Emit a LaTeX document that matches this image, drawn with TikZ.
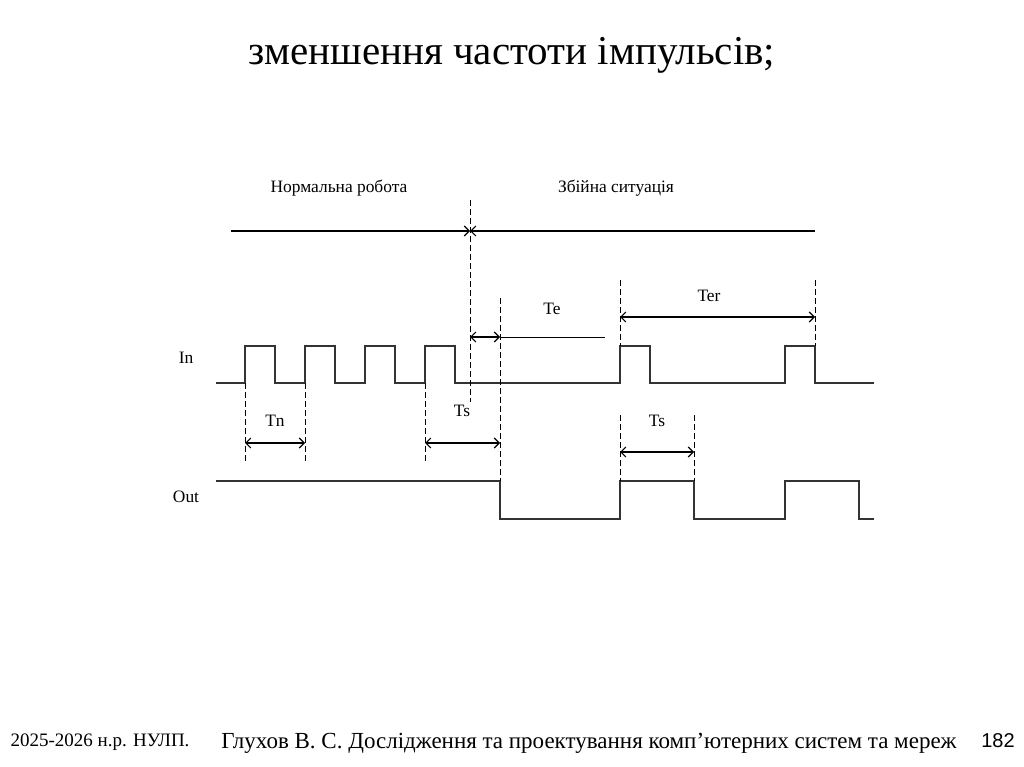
\documentclass[tikz,border=0pt]{standalone}
\usepackage{fontspec}
\setmainfont{Liberation Serif}
\newfontfamily\sansf{Liberation Sans}
\usetikzlibrary{arrows.meta}
\begin{document}
\begin{tikzpicture}[x=1pt,y=-1pt,
  sig/.style={line width=1.1pt,black!80},
  dsh/.style={line width=0.8pt,dash pattern=on 6pt off 3pt},
  dim/.style={line width=1.1pt,{Straight Barb[length=5pt]}-{Straight Barb[length=5pt]}},
  lbl/.style={font=\fontsize{17.4}{19}\selectfont}]
\useasboundingbox (0,0) rectangle (1024,767);
\node (title) at (512,55) {\fontsize{41}{48}\selectfont зменшення частоти імпульсів;};
% In signal
\draw[sig] (216,383) -- (245,383) -- (245,346) -- (275,346) -- (275,383) -- (305,383) -- (305,346) -- (335,346) -- (335,383) -- (365,383) -- (365,346) -- (395,346) -- (395,383) -- (425,383) -- (425,346) -- (455,346) -- (455,383) -- (620,383) -- (620,346) -- (650,346) -- (650,383) -- (785,383) -- (785,346) -- (815,346) -- (815,383) -- (874,383);
% Out signal
\draw[sig] (216,481) -- (500,481) -- (500,519) -- (620,519) -- (620,481) -- (694,481) -- (694,519) -- (785,519) -- (785,481) -- (859,481) -- (859,519) -- (874,519);
% dashed
\draw[dsh] (245,383) -- (245,462);
\draw[dsh] (305,383) -- (305,462);
\draw[dsh] (425,383) -- (425,462);
\draw[dsh] (500,298) -- (500,481);
\draw[dsh] (470,200) -- (470,402);
\draw[dsh] (620,280) -- (620,346);
\draw[dsh] (620,415) -- (620,481);
\draw[dsh] (815,280) -- (815,346);
\draw[dsh] (694,415) -- (694,481);
% dims
\coordinate (a1) at (231,231); \coordinate (a2) at (470,231); \coordinate (a3) at (815,231);
\draw[line width=1.1pt,-{Straight Barb[length=5pt]}] (a1) -- (a2);
\draw[line width=1.1pt,{Straight Barb[length=5pt]}-] (a2) -- (a3);
\draw[dim] (245,443) -- (305,443);
\draw[dim] (425,443) -- (500,443);
\draw[dim] (470,337) -- (500,337);
\draw[line width=0.8pt] (500,337) -- (605,337);
\draw[dim] (620,317) -- (815,317);
\draw[dim] (620,452) -- (694,452);
% labels
\node[lbl] (l1) at (339,188) {Нормальна робота};
\node[lbl] (l2) at (616,188) {Збійна ситуація};
\node[lbl] (te) at (552,309) {Te};
\node[lbl] (ter) at (709,296) {Ter};
\node[lbl] (in) at (186,358) {In};
\node[lbl] (ts1) at (462,411) {Ts};
\node[lbl] (tn) at (275,421) {Tn};
\node[lbl] (ts2) at (657,421) {Ts};
\node[lbl] (out) at (186,497) {Out};
\node (f1) at (100,742) {\fontsize{19}{21}\selectfont 2025-2026 н.р. НУЛП.};
\node (f2) at (589,743) {\fontsize{23}{25}\selectfont Глухов В. С. Дослідження та проектування комп’ютерних систем та мереж};
\node (f3) at (998,741) {\sansf\fontsize{20}{22}\selectfont 182};
\end{tikzpicture}
\end{document}
